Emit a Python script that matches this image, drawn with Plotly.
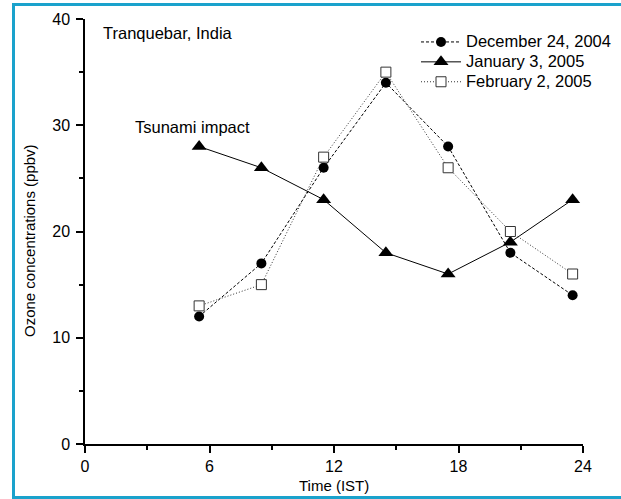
import plotly.graph_objects as go

# Hourly ozone measurements at Tranquebar (time in IST, hours)
hours = [5.5, 8.5, 11.5, 14.5, 17.5, 20.5, 23.5]
dec_24_2004 = [12, 17, 26, 34, 28, 18, 14]
jan_3_2005 = [28, 26, 23, 18, 16, 19, 23]
feb_2_2005 = [13, 15, 27, 35, 26, 20, 16]

series_names = ["December 24, 2004", "January 3, 2005", "February 2, 2005"]

x_ticks = [0, 6, 12, 18, 24]
y_ticks = [0, 10, 20, 30, 40]

FONT = "Arial, Liberation Sans, sans-serif"

W, H = 621, 499
ML, MR, MT, MB = 85, 38, 19, 55
PW, PH = W - ML - MR, H - MT - MB


def px_x(p):
    return (p - ML) / PW


def px_y(p):
    return (H - MB - p) / PH


def legend_label(name):
    # larger glyphs while keeping compact legend row spacing
    return f'<span style="font-size:16.5px">{name}</span>'


fig = go.Figure()

fig.add_trace(go.Scatter(
    x=hours, y=dec_24_2004, name=legend_label(series_names[0]),
    mode="lines+markers",
    line=dict(color="black", width=1, dash="3px,2px"),
    marker=dict(symbol="circle", size=10, color="black"),
))
fig.add_trace(go.Scatter(
    x=hours, y=jan_3_2005, name=legend_label(series_names[1]),
    mode="lines+markers",
    line=dict(color="black", width=1),
    marker=dict(symbol="triangle-up", size=13, color="black"),
))
fig.add_trace(go.Scatter(
    x=hours, y=feb_2_2005, name=legend_label(series_names[2]),
    mode="lines+markers",
    line=dict(color="#333333", width=1, dash="1px,2px"),
    marker=dict(symbol="square", size=10, color="white",
                line=dict(color="#333333", width=1)),
))

axis_common = dict(
    showgrid=False, zeroline=False, showline=True,
    linecolor="black", linewidth=1.5,
    ticks="outside", ticklen=7, tickwidth=1.5, tickcolor="black",
    tickfont=dict(family=FONT, size=16, color="black"),
)

fig.update_xaxes(
    range=[0, 24], tickmode="array", tickvals=x_ticks,
    ticktext=[str(v) for v in x_ticks],
    minor=dict(ticks="outside", ticklen=4, tickwidth=1.5,
               tickcolor="black", dtick=3, tick0=0, showgrid=False),
    **axis_common,
)
fig.update_yaxes(
    range=[0, 40], tickmode="array", tickvals=y_ticks,
    ticktext=[str(v) for v in y_ticks],
    ticklabelstandoff=3,
    minor=dict(ticks="outside", ticklen=4, tickwidth=1.5,
               tickcolor="black", dtick=5, tick0=0, showgrid=False),
    **axis_common,
)

annotations = [
    dict(text="Tranquebar, India", x=px_x(101), y=px_y(33),
         xanchor="left", yanchor="middle", font=dict(size=16.5)),
    dict(text="Tsunami impact", x=px_x(133), y=px_y(127),
         xanchor="left", yanchor="middle", font=dict(size=16.5)),
    dict(text="Time (IST)", x=0.5, y=px_y(485),
         xanchor="center", yanchor="middle", font=dict(size=15)),
    dict(text="Ozone concentrations (ppbv)", x=px_x(29), y=px_y(241),
         xanchor="center", yanchor="middle", textangle=-90,
         font=dict(size=15)),
]
for a in annotations:
    a.update(xref="paper", yref="paper", showarrow=False)
    a["font"].update(family=FONT, color="black")

fig.update_layout(
    width=W, height=H,
    margin=dict(l=ML, r=MR, t=MT, b=MB, autoexpand=False),
    paper_bgcolor="white", plot_bgcolor="white",
    font=dict(family=FONT, color="black"),
    annotations=annotations,
    showlegend=True,
    legend=dict(
        x=px_x(416), y=px_y(27), xanchor="left", yanchor="top",
        bgcolor="rgba(0,0,0,0)", borderwidth=0,
        font=dict(family=FONT, size=13, color="black"),
        itemwidth=40, tracegroupgap=0,
    ),
    shapes=[dict(
        type="rect", xref="paper", yref="paper",
        x0=px_x(13.5), x1=px_x(632), y0=px_y(497.5), y1=px_y(4.5),
        line=dict(color="#1aa2cc", width=3), fillcolor="rgba(0,0,0,0)",
        layer="above",
    )],
)

fig.write_html("out.html")
